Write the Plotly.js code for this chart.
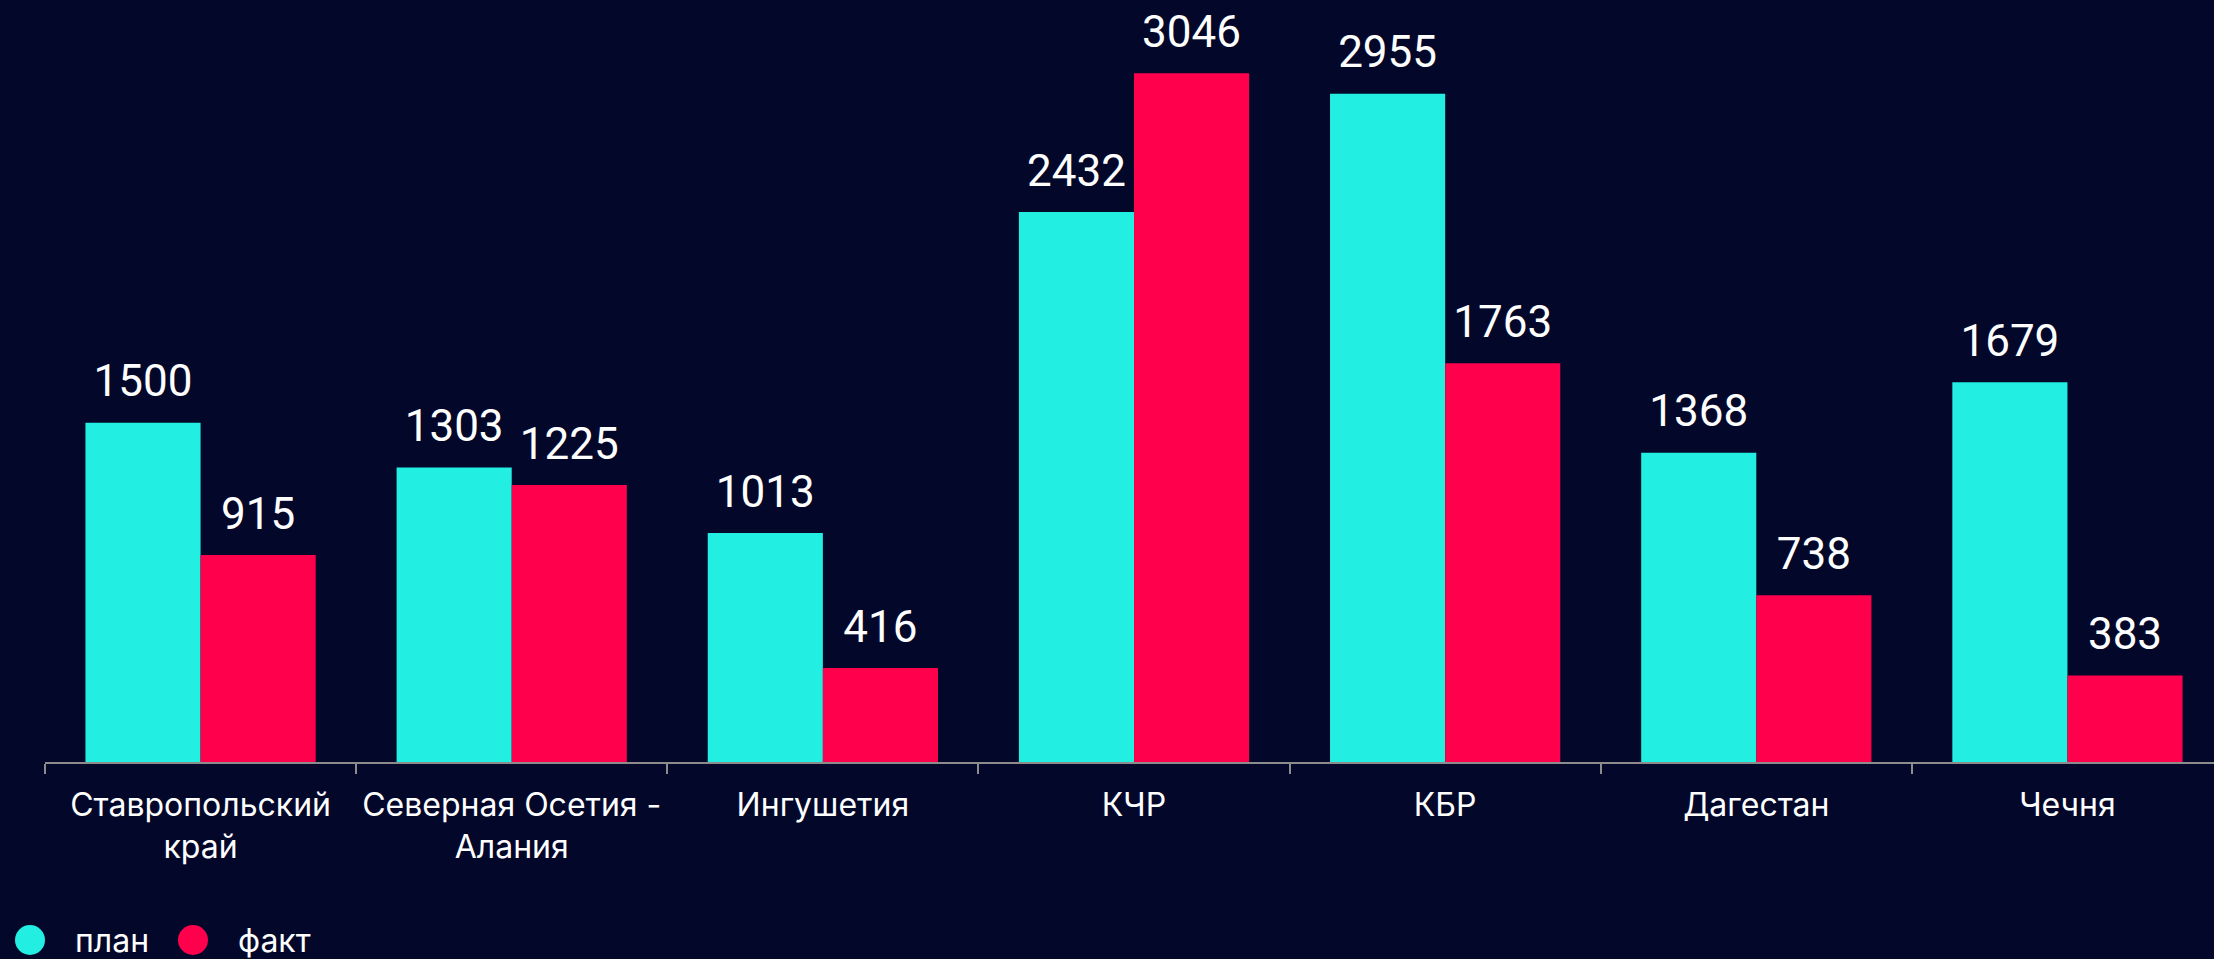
<!DOCTYPE html>
<html>
<head>
<meta charset="utf-8">
<script src="https://cdn.plot.ly/plotly-3.0.1.min.js"></script>
<style>
  html, body { margin: 0; padding: 0; background: #03082A; overflow: hidden; }
  #chart { width: 2214px; height: 959px; }
</style>
</head>
<body>
<div id="chart"></div>
<script>
// ---- data ----
const categories = ["Ставропольский<br>край", "Северная Осетия -<br>Алания", "Ингушетия", "КЧР", "КБР", "Дагестан", "Чечня"];
const planValues = [1500, 1303, 1013, 2432, 2955, 1368, 1679];
const factValues = [915, 1225, 416, 3046, 1763, 738, 383];
const seriesNames = ["план", "факт"];

// ---- style ----
const BG = "#03082A";
const CYAN = "#22EFE1";
const RED = "#FF004C";
const FONT = "Inter, 'Noto Sans', sans-serif";
const NUMFONT = "Roboto, 'Noto Sans', sans-serif";
const W = 2214, H = 959;
const M = { l: 45, r: 0, t: 0, b: 197 };
const PW = W - M.l - M.r, PH = H - M.t - M.b;
const pxX = px => (px - M.l) / PW;
const pxY = py => (H - M.b - py) / PH;

function barTrace(vals, name, color, group) {
  return {
    type: "bar", x: categories, y: vals, name: name,
    marker: { color: color, line: { width: 0 } },
    offsetgroup: group, showlegend: false, hoverinfo: "x+y"
  };
}
function labelTrace(vals, group) {
  return {
    type: "scatter", mode: "markers+text", x: categories, y: vals,
    text: vals.map(String), textposition: "top center",
    textfont: { family: NUMFONT, size: 44, color: "#FFFFFF" },
    marker: { size: 23, color: "rgba(0,0,0,0)" },
    orientation: "v", offsetgroup: group, cliponaxis: false,
    showlegend: false, hoverinfo: "skip"
  };
}

const data = [
  barTrace(planValues, seriesNames[0], CYAN, "a"),
  barTrace(factValues, seriesNames[1], RED, "b"),
  labelTrace(planValues, "a"),
  labelTrace(factValues, "b")
];

const legendItems = [
  { name: seriesNames[0], color: CYAN, cx: 30, tx: 73 },
  { name: seriesNames[1], color: RED, cx: 193, tx: 236 }
];
const shapes = legendItems.map(it => ({
  type: "circle", xref: "paper", yref: "paper",
  xsizemode: "pixel", ysizemode: "pixel",
  xanchor: pxX(it.cx), yanchor: pxY(940),
  x0: -15, x1: 15, y0: -15, y1: 15,
  fillcolor: it.color, line: { width: 0 }
}));
const annotations = legendItems.map(it => ({
  xref: "paper", yref: "paper", x: pxX(it.tx), y: pxY(941),
  xanchor: "left", yanchor: "middle", showarrow: false,
  text: it.name, font: { family: FONT, size: 32, color: "#FFFFFF" }
}));

const layout = {
  width: W, height: H,
  margin: M,
  paper_bgcolor: BG, plot_bgcolor: BG,
  font: { family: FONT, color: "#FFFFFF" },
  barmode: "group", bargap: 0.26, bargroupgap: 0,
  scattermode: "group", scattergap: 0.26,
  showlegend: false,
  xaxis: {
    type: "category",
    range: [-0.5, 6.471],
    showline: true, linecolor: "#8C8C8C", linewidth: 2,
    ticks: "outside", tickson: "boundaries", ticklen: 10, tickwidth: 2, tickcolor: "#8C8C8C",
    tickangle: 0,
    tickfont: { family: FONT, size: 32, color: "#FFFFFF" },
    ticklabelstandoff: 14,
    showgrid: false, zeroline: false, fixedrange: true
  },
  yaxis: {
    range: [0, 3370], visible: false, showgrid: false, zeroline: false, fixedrange: true
  },
  shapes: shapes,
  annotations: annotations
};

Plotly.newPlot("chart", data, layout, { displayModeBar: false, staticPlot: true });
</script>
</body>
</html>
